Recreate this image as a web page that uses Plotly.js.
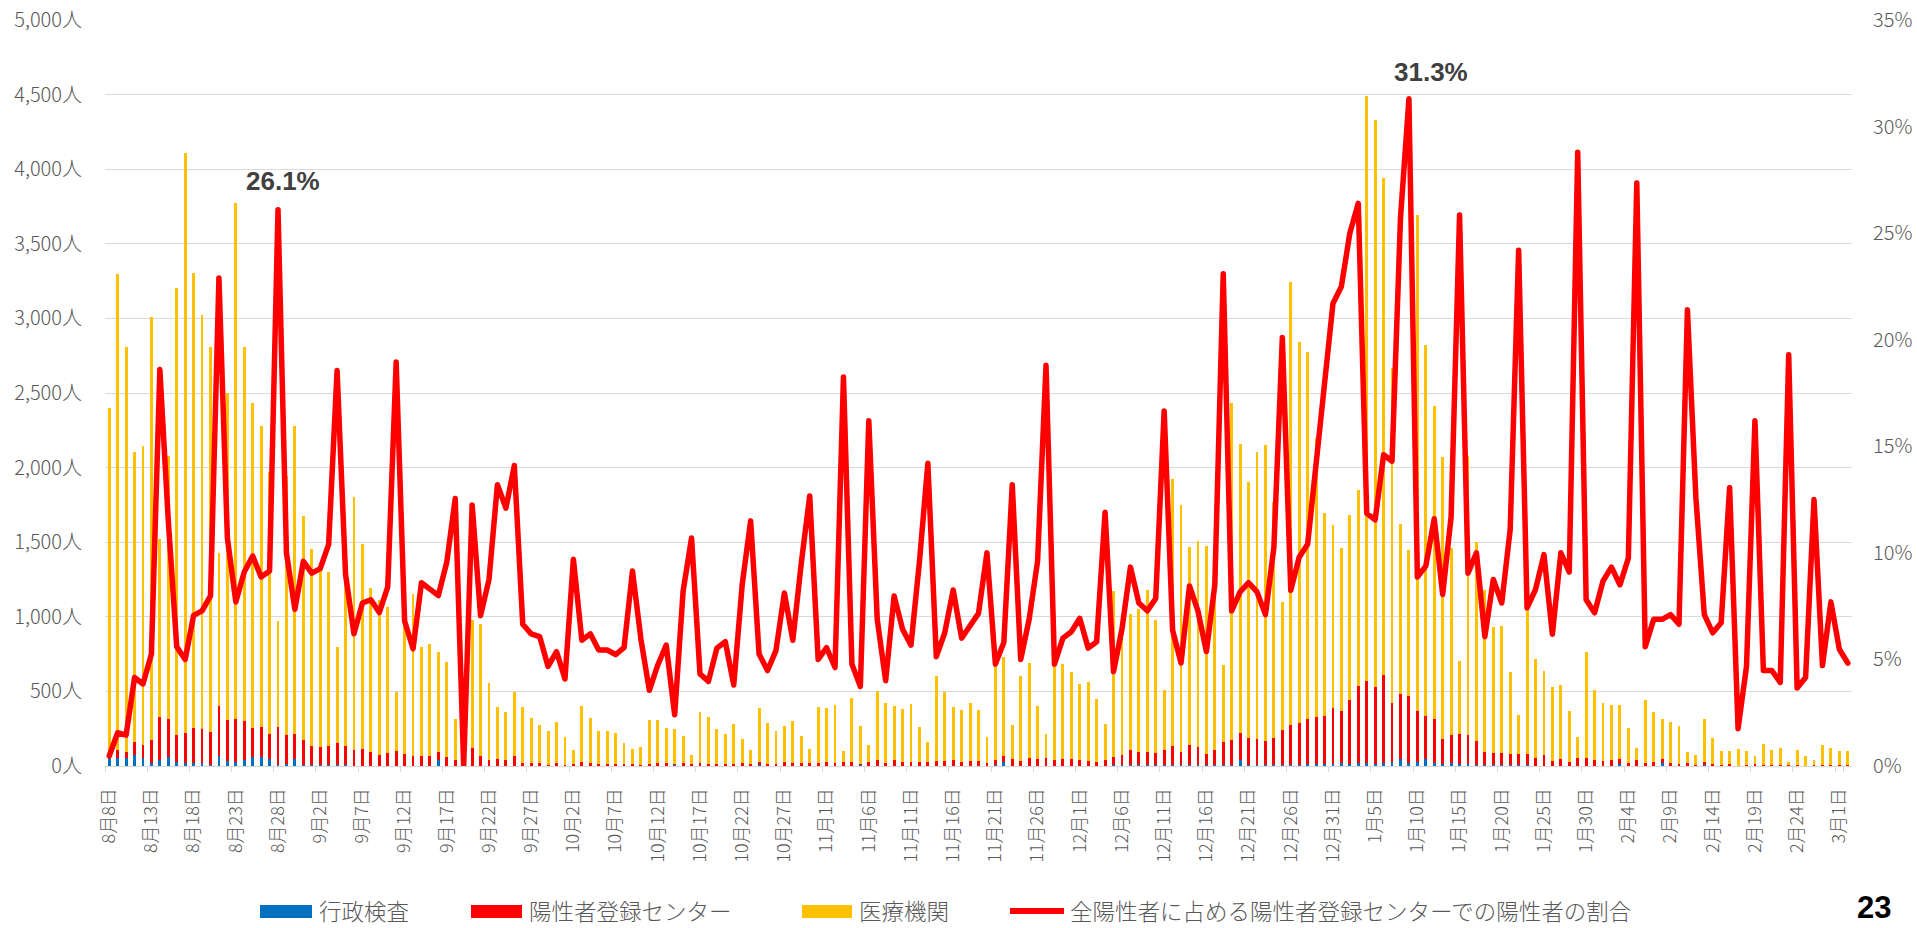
<!DOCTYPE html>
<html><head><meta charset="utf-8">
<script src="https://cdn.plot.ly/plotly-3.0.1.min.js"></script>
<style>
html,body{margin:0;padding:0;background:#fff;}
#chart{width:1917px;height:928px;}
.scatterlayer .js-line{stroke-linejoin:round;stroke-linecap:round;}
</style></head><body><div id="chart"></div><script>
const dates = [
"8月8日","8月9日","8月10日","8月11日","8月12日","8月13日","8月14日","8月15日","8月16日","8月17日","8月18日","8月19日","8月20日","8月21日","8月22日","8月23日","8月24日","8月25日","8月26日","8月27日","8月28日","8月29日","8月30日","8月31日",
"9月1日","9月2日","9月3日","9月4日","9月5日","9月6日","9月7日","9月8日","9月9日","9月10日","9月11日","9月12日","9月13日","9月14日","9月15日","9月16日","9月17日","9月18日","9月19日","9月20日","9月21日","9月22日","9月23日","9月24日","9月25日","9月26日","9月27日","9月28日","9月29日","9月30日",
"10月1日","10月2日","10月3日","10月4日","10月5日","10月6日","10月7日","10月8日","10月9日","10月10日","10月11日","10月12日","10月13日","10月14日","10月15日","10月16日","10月17日","10月18日","10月19日","10月20日","10月21日","10月22日","10月23日","10月24日","10月25日","10月26日","10月27日","10月28日","10月29日","10月30日","10月31日",
"11月1日","11月2日","11月3日","11月4日","11月5日","11月6日","11月7日","11月8日","11月9日","11月10日","11月11日","11月12日","11月13日","11月14日","11月15日","11月16日","11月17日","11月18日","11月19日","11月20日","11月21日","11月22日","11月23日","11月24日","11月25日","11月26日","11月27日","11月28日","11月29日","11月30日",
"12月1日","12月2日","12月3日","12月4日","12月5日","12月6日","12月7日","12月8日","12月9日","12月10日","12月11日","12月12日","12月13日","12月14日","12月15日","12月16日","12月17日","12月18日","12月19日","12月20日","12月21日","12月22日","12月23日","12月24日","12月25日","12月26日","12月27日","12月28日","12月29日","12月30日","12月31日",
"1月1日","1月2日","1月3日","1月4日","1月5日","1月6日","1月7日","1月8日","1月9日","1月10日","1月11日","1月12日","1月13日","1月14日","1月15日","1月16日","1月17日","1月18日","1月19日","1月20日","1月21日","1月22日","1月23日","1月24日","1月25日","1月26日","1月27日","1月28日","1月29日","1月30日","1月31日",
"2月1日","2月2日","2月3日","2月4日","2月5日","2月6日","2月7日","2月8日","2月9日","2月10日","2月11日","2月12日","2月13日","2月14日","2月15日","2月16日","2月17日","2月18日","2月19日","2月20日","2月21日","2月22日","2月23日","2月24日","2月25日","2月26日","2月27日","2月28日",
"3月1日","3月2日"];

// 行政検査 (people)
const gyosei = [
57,57,57,73,57,17,40,63,27,17,
23,23,10,70,33,27,43,60,58,45,
5,13,47,10,5,5,5,10,5,3,
3,3,3,3,3,3,3,3,3,40,
3,2,0,3,3,2,2,2,2,1,
1,1,1,1,2,2,2,2,2,2,
2,2,2,2,2,2,2,10,2,2,
2,2,2,2,2,2,2,8,2,2,
2,2,2,2,2,2,2,2,2,5,
2,2,2,2,2,2,2,2,2,2,
2,2,2,2,2,5,30,2,2,2,
2,2,2,2,2,2,2,2,2,4,
4,4,4,4,4,4,4,4,4,4,
5,5,5,8,37,10,8,8,10,8,
10,10,15,15,15,15,20,15,20,20,
15,20,25,45,20,25,50,20,15,20,
15,15,10,8,5,5,5,5,5,3,
3,3,3,2,3,3,3,3,3,15,
2,2,2,2,23,2,1,1,1,10,
1,1,1,0,1,0,0,0,0,0,
0,0,0,0,0,0,0];

// 陽性者登録センター (people)
const center = [
10,53,36,90,83,156,287,250,183,206,
234,224,220,330,274,290,260,197,201,168,
259,195,168,164,131,125,131,142,129,107,
114,94,74,87,97,80,67,67,67,57,
60,35,0,120,67,41,48,38,68,22,
22,16,9,16,8,11,25,21,14,14,
12,9,12,8,11,15,15,6,18,9,
16,14,14,13,11,17,14,22,14,14,
24,19,21,16,21,23,20,22,23,10,
27,37,18,35,26,25,28,27,32,33,
36,24,30,29,21,32,35,42,32,51,
42,49,35,44,42,41,33,28,38,54,
69,105,87,92,83,101,127,90,135,125,
75,104,153,164,181,176,175,158,176,230,
265,279,303,315,323,375,347,429,519,547,
515,590,399,436,447,342,282,298,165,186,
200,191,156,87,84,81,75,75,75,54,
70,30,47,25,50,50,40,30,37,35,
18,35,18,28,24,18,12,16,9,20,
12,7,15,2,5,13,7,5,5,6,
4,3,6,7,10,6,5];

// 医療機関 (people)
const iryo = [
2333,3190,2714,1940,2003,2834,1196,1767,2997,3887,
3046,2776,2577,1027,2193,3456,2507,2176,2023,1756,
709,1734,2067,1504,1320,1230,1166,644,1166,1690,
1373,1096,1033,977,393,1117,1080,730,747,670,
637,276,200,854,880,510,343,320,423,370,
300,260,227,280,183,94,376,297,221,221,
209,146,103,120,297,293,240,234,180,66,
345,311,231,202,270,161,91,360,274,221,
241,279,177,95,374,365,388,76,432,252,
111,461,403,363,355,390,230,134,566,458,
359,351,391,342,170,663,668,233,566,637,
356,162,663,637,583,504,525,417,240,1114,
927,908,959,1081,890,402,1792,1656,1328,1378,
1393,1041,518,2263,1942,1716,1920,1988,1584,862,
2968,2551,2459,1870,1355,1223,1096,1239,1311,3926,
3800,3333,2243,1142,983,3326,2491,2092,1890,1254,
492,1871,1334,1085,845,851,548,260,970,660,
567,497,493,343,144,714,467,390,367,357,
233,86,423,330,270,277,254,76,63,287,
174,92,84,111,94,54,143,105,118,21,
103,64,34,136,113,97,95];

// 全陽性者に占める陽性者登録センターでの陽性者の割合 (%)
const ratio = [
0.47,1.56,1.45,4.15,3.85,5.25,18.6,11.5,5.6,5.0,
7.07,7.28,7.98,22.9,10.7,7.7,9.1,9.85,8.87,9.15,
26.1,10.0,7.35,9.6,9.05,9.26,10.4,18.55,9.0,6.2,
7.65,7.8,7.2,8.4,18.95,6.8,5.5,8.6,8.3,8.0,
9.57,12.55,0,12.25,7.05,8.75,13.2,12.1,14.1,6.65,
6.2,6.07,4.67,5.37,4.08,9.7,5.9,6.2,5.44,5.44,
5.23,5.55,9.15,5.95,3.55,4.74,5.67,2.4,8.2,10.7,
4.32,3.97,5.53,5.83,3.8,8.5,11.5,5.25,4.48,5.41,
8.12,5.9,9.52,12.67,5.0,5.55,4.62,18.25,4.78,3.73,
16.2,6.88,4.0,7.98,6.42,5.67,9.57,14.2,5.13,6.25,
8.26,6.0,6.58,7.16,10.0,4.78,5.79,13.2,5.0,6.88,
9.6,18.8,4.78,6.0,6.3,6.93,5.53,5.83,11.9,4.43,
6.42,9.33,7.65,7.28,7.86,16.66,6.37,4.83,8.45,7.28,
5.37,8.5,23.1,7.28,8.17,8.6,8.17,7.1,10.27,20.1,
8.24,9.8,10.4,14.1,17.6,21.7,22.5,25.0,26.4,11.85,
11.55,14.6,14.3,25.7,31.3,8.87,9.38,11.6,8.05,11.7,
25.85,9.05,10.0,6.07,8.75,7.65,11.1,24.2,7.42,8.28,
9.92,6.18,10.0,9.1,28.8,7.8,7.19,8.68,9.33,8.5,
9.75,27.35,5.6,6.88,6.88,7.1,6.65,21.4,12.6,7.1,
6.25,6.72,13.07,1.75,4.67,16.2,4.48,4.48,3.92,19.3,
3.66,4.15,12.5,4.71,7.7,5.48,4.83];

const seriesNames = ["行政検査","陽性者登録センター","医療機関","全陽性者に占める陽性者登録センターでの陽性者の割合"];
const seriesColors = ["#0070C0","#FF0000","#FFC000","#FF0000"];
const labeledPoints = [20, 154];   // data labels shown on the ratio line
const labelShift = [[5, 12], [22, 10]];

const tickIdx = dates.map((d,i)=>i).filter(i=>i%5===0);
const tickvals = tickIdx.map(i=>dates[i]);

const JP = '"Noto Sans CJK JP", "Noto Sans", sans-serif';
const GRAY = '#595959';

const traces = [
  {type:'bar', name:seriesNames[0], x:dates, y:gyosei, marker:{color:seriesColors[0]}},
  {type:'bar', name:seriesNames[1], x:dates, y:center, marker:{color:seriesColors[1]}},
  {type:'bar', name:seriesNames[2], x:dates, y:iryo, marker:{color:seriesColors[2]}},
  {type:'scatter', mode:'lines', name:seriesNames[3], x:dates, y:ratio, yaxis:'y2',
   line:{color:seriesColors[3], width:5.5}}
];

// pixel helpers for things placed outside the plot area (legend, page number)
const L=105, R=1852, T=20, B=766;
const px = v => (v - L)/(R - L);
const py = v => (B - v)/(B - T);

const shapes = [];
const annotations = [];
// legend (drawn manually to match the wide swatches)
const legendItems = [
  {kind:'rect', x0:260, x1:312, tx:318, color:seriesColors[0], text:seriesNames[0]},
  {kind:'rect', x0:471, x1:522, tx:528, color:seriesColors[1], text:seriesNames[1]},
  {kind:'rect', x0:802, x1:852, tx:858, color:seriesColors[2], text:seriesNames[2]},
  {kind:'line', x0:1010, x1:1064, tx:1069, color:seriesColors[3], text:seriesNames[3]}
];
const LY = 911;
legendItems.forEach(it=>{
  if(it.kind==='rect'){
    shapes.push({type:'rect', xref:'paper', yref:'paper', x0:px(it.x0), x1:px(it.x1), y0:py(LY+7), y1:py(LY-6),
      fillcolor:it.color, line:{width:0}});
  } else {
    shapes.push({type:'line', xref:'paper', yref:'paper', x0:px(it.x0), x1:px(it.x1), y0:py(LY), y1:py(LY),
      line:{color:it.color, width:6}});
  }
  annotations.push({xref:'paper', yref:'paper', x:px(it.tx), y:py(LY-1), xanchor:'left', yanchor:'middle',
    showarrow:false, borderpad:0, text:it.text, font:{family:JP, size:22.5, color:GRAY, weight:300}});
});
// data labels on the ratio line
labeledPoints.forEach((i,k)=>{
  annotations.push({xref:'x', yref:'y2', x:dates[i], y:ratio[i], text:ratio[i].toFixed(1)+'%',
    showarrow:false, xanchor:'center', yanchor:'bottom', xshift:labelShift[k][0], yshift:labelShift[k][1],
    font:{family:'"Liberation Sans", Arial, sans-serif', size:26, color:'#404040', weight:'bold'}});
});
// page number
annotations.push({xref:'paper', yref:'paper', x:px(1856), y:py(889), xanchor:'left', yanchor:'top', showarrow:false,
  borderpad:0, text:'23', font:{family:'"Liberation Sans", Arial, sans-serif', size:31, color:'#000', weight:'bold'}});

const layout = {
  width:1917, height:928,
  margin:{l:L, r:1917-R, t:T, b:928-B, pad:0},
  paper_bgcolor:'#fff', plot_bgcolor:'#fff',
  showlegend:false,
  barmode:'stack', bargap:0.66,
  font:{family:JP, color:GRAY},
  xaxis:{type:'category', range:[-0.5, dates.length-0.5], tickmode:'array', tickvals:tickvals, ticktext:tickvals,
    tickangle:-90, tickson:'boundaries', ticks:'outside', ticklen:5, tickcolor:'#d9d9d9', tickwidth:1,
    showline:true, linecolor:'#d9d9d9', linewidth:1, showgrid:false, zeroline:false,
    tickfont:{family:JP, size:18, color:GRAY, weight:300}, ticklabelstandoff:14, automargin:false},
  yaxis:{range:[0,5000], tick0:0, dtick:500, tickformat:',d', ticksuffix:'人', ticks:'',
    showgrid:true, gridcolor:'#d9d9d9', gridwidth:1, zeroline:false, showline:false,
    tickfont:{family:JP, size:20, color:GRAY, weight:300}, ticklabelstandoff:22, automargin:false},
  yaxis2:{overlaying:'y', side:'right', range:[0,35], tick0:0, dtick:5, ticksuffix:'%', ticks:'',
    showgrid:false, zeroline:false, showline:false,
    tickfont:{family:JP, size:20, color:GRAY, weight:300}, ticklabelstandoff:20, automargin:false},
  shapes:shapes, annotations:annotations
};

Plotly.newPlot('chart', traces, layout, {displayModeBar:false, staticPlot:true});
</script></body></html>
